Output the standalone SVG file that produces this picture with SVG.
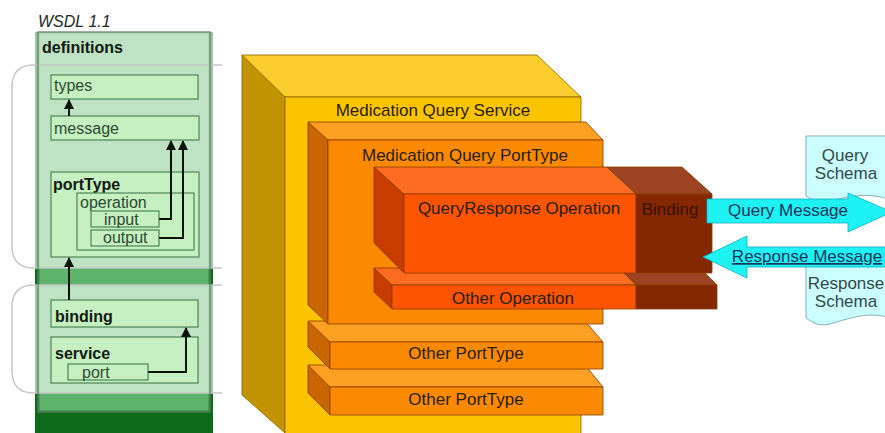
<svg xmlns="http://www.w3.org/2000/svg" width="885" height="433" viewBox="0 0 885 433">
<defs>
<style>
.t{font-family:"Liberation Sans",Arial,sans-serif;}
.lg{font-size:16px;fill:#2c4a30;}
.lb{font-size:16px;font-weight:bold;fill:#101a10;}
.box{fill:#c6efc2;stroke:#4e8556;stroke-width:1.2;}
.lobe{fill:#ffffff;fill-opacity:0.6;stroke:#c4c9c4;stroke-width:1.5;}
.ln{fill:none;stroke:#0a140a;stroke-width:2;}
.r{font-size:17px;fill:#2a1e00;text-anchor:middle;}
.edge{stroke:#8a6400;stroke-width:0.8;stroke-linejoin:round;}
.oedge{stroke:#8a3c00;stroke-width:0.8;stroke-linejoin:round;}
.cy{fill:#1ef2f2;stroke:#10b0c0;stroke-width:0.8;}
.doc{fill:#ccffff;stroke:#8ab0b0;stroke-width:1;}
.ct{font-size:17px;fill:#16365a;text-anchor:middle;}
.dt{font-size:17px;fill:#304848;text-anchor:middle;}
</style>
<marker id="ah" viewBox="0 0 10 10" refX="9" refY="5" markerWidth="5" markerHeight="5" orient="auto">
<path d="M0,0 L10,5 L0,10 z" fill="#0a140a"/>
</marker>
</defs>
<rect width="885" height="433" fill="#ffffff"/>

<!-- WSDL left panel -->
<g id="wsdl-title"><text class="t" x="38" y="27" font-size="16" font-style="italic" fill="#202820">WSDL 1.1</text></g>
<g id="definitions">
<rect x="35" y="32" width="178" height="401" fill="#0d6c1b"/>
<rect x="39" y="33" width="170" height="378" fill="#5fb36c" stroke="#3e8a4a" stroke-width="1.2"/>
<rect x="35" y="32" width="178" height="33" fill="#ffffff" fill-opacity="0.6"/>
<path class="lobe" d="M222,65 H34 Q12,65 12,87 V246 Q12,268 34,268 H222"/>
<path class="lobe" d="M222,285 H34 Q12,285 12,307 V371 Q12,393 34,393 H222"/>
<rect x="38" y="32" width="172" height="380" fill="none" stroke="#5d7f62" stroke-width="1.2"/>
<text class="t lb" x="42" y="53">definitions</text>
</g>
<g id="types"><rect class="box" x="51" y="75" width="147" height="24"/><text class="t lg" x="54" y="91">types</text></g>
<g id="message"><rect class="box" x="51" y="116" width="148" height="24"/><text class="t lg" x="54" y="134">message</text></g>
<g id="portType"><rect class="box" x="51" y="172" width="148" height="85"/><text class="t lb" x="53" y="190">portType</text></g>
<g id="operation"><rect class="box" x="77" y="193" width="117" height="57"/><text class="t lg" x="80" y="208">operation</text></g>
<g id="input"><rect class="box" x="91" y="211" width="68" height="16"/><text class="t lg" x="104" y="225">input</text></g>
<g id="output"><rect class="box" x="91" y="230" width="68" height="16"/><text class="t lg" x="103" y="243">output</text></g>
<g id="binding"><rect class="box" x="51" y="300" width="147" height="27"/><text class="t lb" x="55" y="322">binding</text></g>
<g id="service"><rect class="box" x="51" y="337" width="147" height="46"/><text class="t lb" x="55" y="359">service</text></g>
<g id="port"><rect class="box" x="68" y="364" width="80" height="16"/><text class="t lg" x="82" y="378">port</text></g>

<g id="wsdl-connectors">
<path class="ln" d="M69,116 V100" marker-end="url(#ah)"/>
<path class="ln" d="M159,219 H171 V141" marker-end="url(#ah)"/>
<path class="ln" d="M159,238 H183 V141" marker-end="url(#ah)"/>
<path class="ln" d="M69,300 V258" marker-end="url(#ah)"/>
<path class="ln" d="M148,372 H186 V328" marker-end="url(#ah)"/>
</g>

<!-- 3D blocks -->
<g id="medication-query-service">
<polygon class="edge" points="242,55 285,97 285,433 242,395" fill="#c29400"/>
<polygon class="edge" points="242,55 537,55 581,97 285,97" fill="#fccd2e"/>
<rect class="edge" x="285" y="97" width="296" height="340" fill="#fcc400"/>
<text class="t r" x="433" y="116">Medication Query Service</text>
</g>
<g id="other-porttype-2">
<polygon class="oedge" points="308,365 330,387 330,415 308,393" fill="#c96600"/>
<polygon class="oedge" points="308,365 585,365 603,387 330,387" fill="#fca024"/>
<rect class="oedge" x="330" y="387" width="273" height="28" fill="#fc8a00"/>
<text class="t r" x="466" y="405">Other PortType</text>
</g>
<g id="other-porttype-1">
<polygon class="oedge" points="308,321 330,342 330,369 308,347" fill="#c96600"/>
<polygon class="oedge" points="308,321 585,321 603,342 330,342" fill="#fca024"/>
<rect class="oedge" x="330" y="342" width="273" height="27" fill="#fc8a00"/>
<text class="t r" x="466" y="359">Other PortType</text>
</g>
<g id="medication-query-porttype">
<polygon class="oedge" points="308,122 328,140 328,324 308,305" fill="#c96600"/>
<polygon class="oedge" points="308,122 586,122 603,140 328,140" fill="#fca024"/>
<rect class="oedge" x="328" y="140" width="275" height="184" fill="#fc8a00"/>
<text class="t r" x="465" y="161">Medication Query PortType</text>
</g>
<g id="other-operation">
<polygon class="oedge" points="374,268 392,285 392,309 374,292" fill="#c83c00"/>
<polygon class="oedge" points="374,268 619,268 636,285 392,285" fill="#fc6c20"/>
<polygon class="oedge" points="619,268 700,268 717,285 636,285" fill="#9c4422"/>
<rect class="oedge" x="392" y="285" width="244" height="24" fill="#fc5400"/>
<rect class="oedge" x="636" y="285" width="81" height="24" fill="#832800"/>
<text class="t r" x="513" y="304">Other Operation</text>
</g>
<g id="queryresponse-operation">
<polygon class="oedge" points="374,167 404,194 404,273 374,243" fill="#c83c00"/>
<polygon class="oedge" points="374,167 607,167 636,194 404,194" fill="#fc6c20"/>
<rect class="oedge" x="404" y="194" width="232" height="79" fill="#fc5400"/>
<text class="t r" x="519" y="214">QueryResponse Operation</text>
</g>
<g id="binding-block">
<polygon class="oedge" points="607,167 682,167 712,194 636,194" fill="#9c4422"/>
<rect class="oedge" x="636" y="194" width="76" height="79" fill="#832800"/>
<text class="t r" x="670" y="215" style="fill:#3a1000">Binding</text>
</g>

<!-- schemas -->
<g id="query-schema">
<path class="doc" d="M806,136 H890 V200 C870,192 850,196 830,201 C820,204 812,200 806,196 Z"/>
<text class="t dt" x="845" y="161">Query</text>
<text class="t dt" x="846" y="179">Schema</text>
</g>
<g id="response-schema">
<path class="doc" d="M806,263 H890 V318 C870,311 850,318 830,324 C818,327 812,322 806,318 Z"/>
<text class="t dt" x="846" y="289">Response</text>
<text class="t dt" x="846" y="307">Schema</text>
</g>

<!-- message arrows -->
<g id="message-connectors">
<g id="query-message">
<polygon class="cy" points="707,199 848,199 848,193 892,212 848,232 848,223 707,223"/>
<text class="t ct" x="788" y="216">Query Message</text>
</g>
<g id="response-message">
<polygon class="cy" points="890,247 747,247 747,236 703,257 747,278 747,267 890,267"/>
<text class="t ct" x="807" y="262" text-decoration="underline">Response Message</text>
</g>
</g>
</svg>
